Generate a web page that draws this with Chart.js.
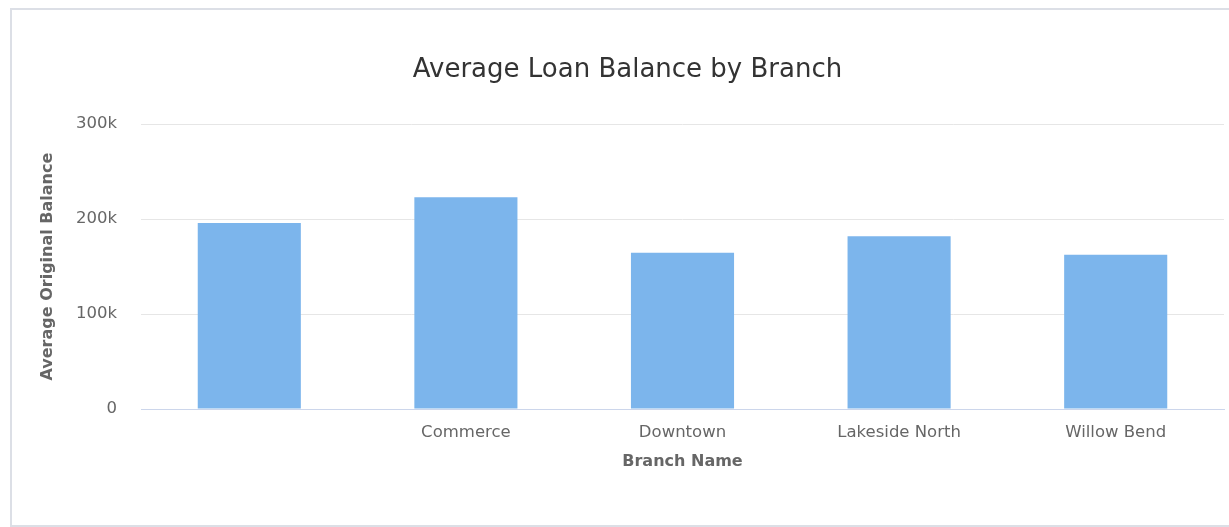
<!DOCTYPE html>
<html>
<head>
<meta charset="utf-8">
<script src="https://cdn.jsdelivr.net/npm/chart.js@4"></script>
<style>
  html, body { margin: 0; padding: 0; background: #fff; overflow: hidden; }
  #box {
    position: absolute; left: 10px; top: 8px;
    width: 1240px; height: 515px;
    border: 2px solid #dcdfe6; background: #fff;
  }
  #wrap { position: absolute; left: 0; top: 0; width: 1222px; height: 515px; }
</style>
</head>
<body>
<div id="box"><div id="wrap"><canvas id="myChart"></canvas></div></div>
<script>
// branch names (first one is blank in the source data)
var branches = ["", "Commerce", "Downtown", "Lakeside North", "Willow Bend"];
var avgBalance = [196000, 223000, 164500, 182000, 162500];
var yTicks = [0, 100000, 200000, 300000];

var FONT = "'DejaVu Sans', sans-serif";

var chart = new Chart(document.getElementById("myChart"), {
   type: 'bar',
   data: {
      labels: branches,
      datasets: [
         {
            label: "Average Original Balance",
            backgroundColor: "#7cb5ec",
            data: avgBalance,
            barPercentage: 0.476,
            categoryPercentage: 1
         }
      ]
   },
   options: {
      responsive: true,
      maintainAspectRatio: false,
      animation: false,
      layout: { padding: { left: 19, right: 10, top: 0, bottom: 54 } },
      plugins: {
         legend: { display: false },
         tooltip: { enabled: false },
         title: {
            display: true,
            text: 'Average Loan Balance by Branch',
            color: '#333333',
            font: { family: FONT, size: 26, weight: 'normal' },
            padding: { top: 45, bottom: 38 }
         }
      },
      scales: {
         x: {
            grid: { display: false, drawTicks: false },
            border: { display: true, color: '#ccd6eb', width: 1 },
            ticks: {
               color: '#666666',
               font: { family: FONT, size: 16.5 },
               padding: 14,
               maxRotation: 0,
               autoSkip: false
            },
            title: {
               display: true,
               text: 'Branch Name',
               color: '#666666',
               font: { family: FONT, size: 16, weight: 'bold' },
               padding: { top: 4, bottom: 0 }
            },
            afterFit: function (scale) { scale.height = 62; }
         },
         y: {
            min: 0,
            max: 300000,
            afterBuildTicks: function (scale) {
               scale.ticks = yTicks.map(function (v) { return { value: v }; });
            },
            grid: { color: '#e6e6e6', drawTicks: false },
            border: { display: false },
            ticks: {
               color: '#666666',
               font: { family: FONT, size: 16.5 },
               padding: 24,
               callback: function (v) { return v === 0 ? '0' : (v / 1000) + 'k'; }
            },
            title: {
               display: true,
               text: 'Average Original Balance',
               color: '#666666',
               font: { family: FONT, size: 16, weight: 'bold' },
               padding: { top: 7, bottom: 0 }
            },
            afterFit: function (scale) { scale.width = 110; }
         }
      }
   }
});
</script>
</body>
</html>
